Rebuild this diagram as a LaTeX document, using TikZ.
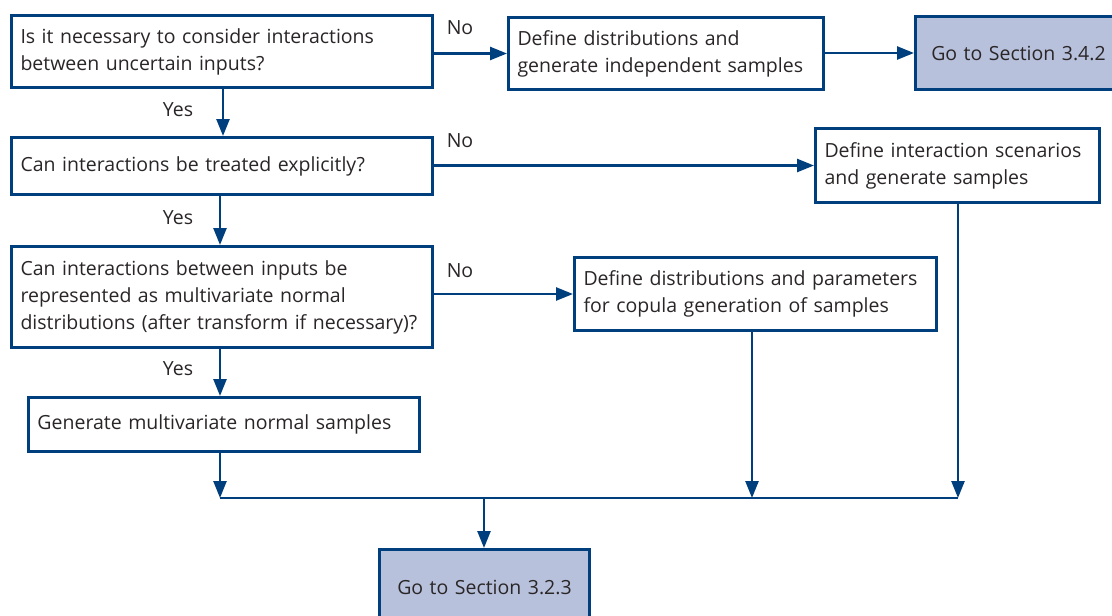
\documentclass[tikz,border=0pt]{standalone}
\usepackage{fontspec}
\setmainfont{Open Sans}
\usetikzlibrary{arrows.meta}
\definecolor{lineblue}{HTML}{003F7D}
\definecolor{gofill}{HTML}{B8C1DC}
\definecolor{txt}{HTML}{2A2627}
\begin{document}
\begin{tikzpicture}[x=1pt,y=-1pt,
  box/.style={draw=lineblue,line width=3pt,fill=white,anchor=north west,inner xsep=9pt,inner ysep=0pt,
    align=left,text=txt,font=\fontsize{19.5}{27}\selectfont},
  gobox/.style={draw=lineblue,line width=3pt,fill=gofill,anchor=north west,inner sep=0pt,
    align=center,text=txt,font=\fontsize{19.5}{27}\selectfont},
  lbl/.style={text=txt,font=\fontsize{19.5}{22}\selectfont,inner sep=0pt},
  conn/.style={draw=lineblue,line width=2.5pt},
  arr/.style={conn,-{Triangle[length=17pt,width=13pt]}}]
\clip (0,0) rectangle (1112,616);
\fill[white] (0,0) rectangle (1112,616);
% boxes
\node[box,minimum width=421pt,minimum height=72pt,text width=403pt] (A) at (10,14)
  {Is it necessary to consider interactions\\between uncertain inputs?};
\node[box,minimum width=315pt,minimum height=72pt,text width=297pt] (B) at (507,16)
  {Define distributions and\\generate independent samples};
\node[gobox,minimum width=206pt,minimum height=73pt,text width=206pt] (C) at (914,15)
  {Go to Section 3.4.2};
\node[box,minimum width=421pt,minimum height=57pt,text width=403pt] (D) at (10,136)
  {Can interactions be treated explicitly?};
\node[box,minimum width=284pt,minimum height=74pt,text width=266pt] (E) at (814,127)
  {Define interaction scenarios\\and generate samples};
\node[box,minimum width=421pt,minimum height=101pt,text width=403pt] (F) at (10,245)
  {Can interactions between inputs be\\represented as multivariate normal\\distributions (after transform if necessary)?};
\node[box,minimum width=362pt,minimum height=73pt,text width=344pt] (G) at (573,256)
  {Define distributions and parameters\\for copula generation of samples};
\node[box,minimum width=391pt,minimum height=54pt,text width=373pt] (H) at (27,396)
  {Generate multivariate normal samples};
\node[gobox,minimum width=210pt,minimum height=76pt,text width=210pt] (I) at (378,548)
  {Go to Section 3.2.3};
% labels
\node[lbl] (n1) at (460,28) {No};
\node[lbl] (n2) at (460,141) {No};
\node[lbl] (n3) at (460,271) {No};
\node[lbl] (y1) at (178,110) {Yes};
\node[lbl] (y2) at (178,218) {Yes};
\node[lbl] (y3) at (178,369) {Yes};
% merge points
\coordinate (m1) at (220,498);
\coordinate (m2) at (752,498);
\coordinate (m3) at (958,498);
\coordinate (m4) at (484,498);
% connectors
\draw[arr] (A.east |- B.west) -- (B.west);
\draw[arr] (B.east |- C.west) -- (C.west);
\draw[arr] (A.south -| 223,0) -- (D.north -| 223,0);
\draw[arr] (D.east |- E.west) -- (E.west);
\draw[arr] (D.south -| 220,0) -- (F.north -| 220,0);
\draw[arr] (F.east |- G.west) -- (G.west);
\draw[arr] (F.south -| 220,0) -- (H.north -| 220,0);
\draw[arr] (H.south -| m1) -- (m1);
\draw[arr] (G.south -| m2) -- (m2);
\draw[arr] (E.south -| m3) -- (m3);
\draw[conn] (m1) -- (m3);
\draw[arr] (m4) -- (I.north -| m4);
\end{tikzpicture}
\end{document}
